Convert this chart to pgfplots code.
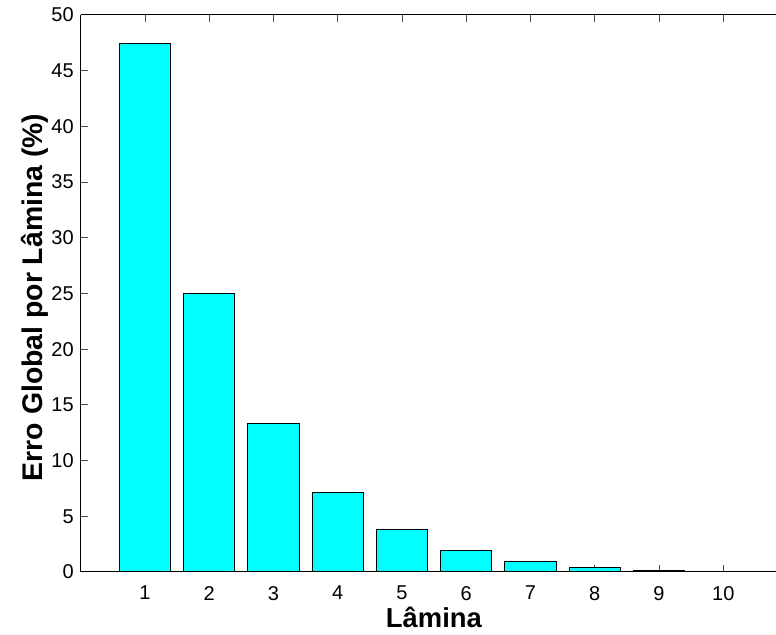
\documentclass[border=0pt]{standalone}
\usepackage{fontspec}
\setmainfont{Liberation Sans}
\usepackage{pgfplots}
\pgfplotsset{compat=1.18}
\definecolor{mcyan}{RGB}{0,255,255}
\begin{document}
\begin{tikzpicture}
\begin{axis}[
  at={(0,0)}, anchor=south west,
  scale only axis,
  width=347.6pt, height=278.5pt,
  xmin=0, xmax=10.82,
  ymin=0, ymax=50,
  xtick={1,2,3,4,5,6,7,8,9,10},
  ytick={0,5,10,15,20,25,30,35,40,45,50},
  axis x line=box,
  axis y line*=left,
  tick align=inside,
  major tick length=3.5pt,
  axis line style={line width=0.5pt, black},
  tick style={line width=0.5pt, black!70},
  /pgf/number format/assume math mode=true,
  ticklabel style={font=\fontsize{10}{12}\selectfont},
  xticklabel style={yshift=-3.5pt},
  xlabel={Lâmina},
  ylabel={Erro Global por Lâmina (\%)},
  xlabel style={font=\fontsize{13.7}{16}\selectfont\bfseries, at={(axis description cs:0.508,0)}, anchor=base, yshift=-28pt},
  ylabel style={font=\fontsize{14.2}{16}\selectfont\bfseries, at={(axis description cs:0,0.493)}, anchor=center, yshift=23pt},
  clip=false,
]
\addplot[ybar, bar width=0.8, fill=mcyan, draw=black, line width=0.5pt]
  coordinates {(1,47.4) (2,25.0) (3,13.35) (4,7.15) (5,3.8) (6,1.9) (7,0.95) (8,0.42) (9,0.16) (10,0.05)};
\end{axis}
\pgfresetboundingbox
\path[use as bounding box] (-40.375pt,-31.5pt) rectangle (347.625pt,286pt);
\end{tikzpicture}
\end{document}
